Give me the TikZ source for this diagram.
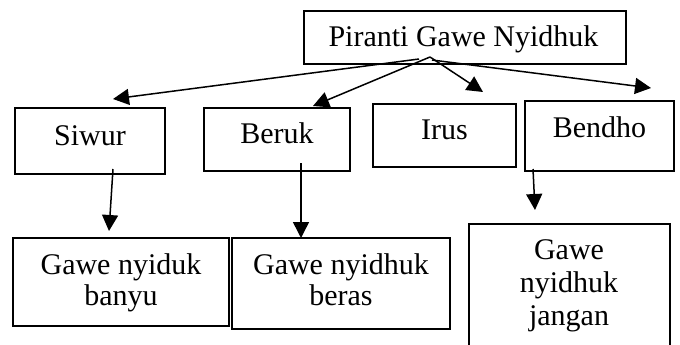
\documentclass[tikz,border=0pt]{standalone}
\usepackage{fontspec}
\setmainfont{Liberation Serif}
\usetikzlibrary{arrows.meta,calc}
\tikzset{
  box/.style={draw=black, line width=1.3pt, rectangle, inner sep=0pt},
  txt/.style={inner sep=0pt, align=center, anchor=base, font=\fontsize{30}{31}\selectfont},
  arr/.style={line width=1.5pt, -{Triangle[length=16pt,width=16pt]}}
}
\begin{document}
\begin{tikzpicture}[x=1pt,y=-1pt]
\useasboundingbox (0,0) rectangle (680,345);
\clip (0,0) rectangle (680,345);
\fill[white] (0,0) rectangle (680,345);
% boxes
\node[box, minimum width=322pt, minimum height=53pt] (top) at (465,37.5) {};
\node[txt] (topT) at (463.5,47) {Piranti Gawe Nyidhuk};
\node[box, minimum width=150pt, minimum height=66pt] (siwur) at (90,141) {};
\node[txt] (siwurT) at (90,145) {Siwur};
\node[box, minimum width=146pt, minimum height=63pt] (beruk) at (277,139.5) {};
\node[txt] (berukT) at (277,143) {Beruk};
\node[box, minimum width=143pt, minimum height=63pt] (irus) at (444.5,135.5) {};
\node[txt] (irusT) at (444.5,139) {Irus};
\node[box, minimum width=149pt, minimum height=70pt] (bendho) at (599.5,136) {};
\node[txt] (bendhoT) at (599.5,137) {Bendho};
\node[box, minimum width=216pt, minimum height=88pt] (banyu) at (121,282) {};
\node[txt] (banyuT) at (121,305) {Gawe nyiduk\\banyu};
\node[box, minimum width=218pt, minimum height=91pt] (beras) at (341,283.5) {};
\node[txt] (berasT) at (341,305) {Gawe nyidhuk\\beras};
\node[box, minimum width=201pt, minimum height=150pt] (jangan) at (569.5,299) {};
\node[txt, font=\fontsize{30}{33}\selectfont] (janganT) at (569,325) {Gawe\\nyidhuk\\jangan};
% free ends
\coordinate (t1) at (113,99);
\coordinate (t2) at (313,106);
\coordinate (t3) at (483,92);
\coordinate (t4) at (651,88);
\coordinate (t5) at (109,231);
\coordinate (t6) at (301,238);
\coordinate (t7) at (535,210);
% connectors
\draw[arr] ($(top.center)+(-46,21.5)$) -- (t1);
\draw[arr] ($(top.center)+(-35,19.5)$) -- (t2);
\draw[arr] ($(top.center)+(-35,19.5)$) -- (t3);
\draw[arr] ($(top.center)+(-33,22.5)$) -- (t4);
\draw[arr] ($(siwur.center)+(23,28)$) -- (t5);
\draw[arr] ($(beruk.center)+(24,23.5)$) -- (t6);
\draw[arr] ($(bendho.center)+(-66.5,33)$) -- (t7);
\end{tikzpicture}
\end{document}
